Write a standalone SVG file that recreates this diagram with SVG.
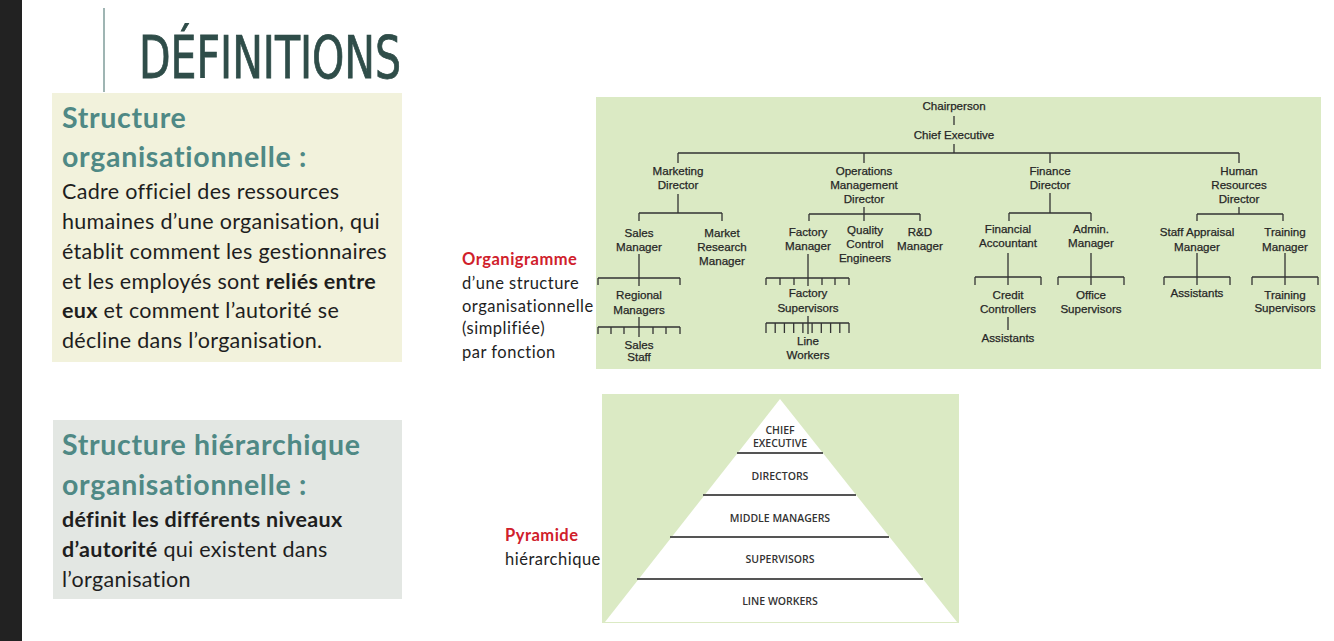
<svg xmlns="http://www.w3.org/2000/svg" width="1334" height="641" viewBox="0 0 1334 641">
<style>
text{font-variant-ligatures:none}
.body{font-family:Lato,"Liberation Sans",sans-serif;font-size:21.5px;letter-spacing:0.3px;fill:#1e1e1e}
.head{font-family:Lato,"Liberation Sans",sans-serif;font-size:28.5px;letter-spacing:0.7px;font-weight:700;fill:#4f8985}
.b{font-weight:700}
.org{font-family:"Liberation Sans",sans-serif;font-size:11.6px;fill:#262626;stroke:#262626;stroke-width:0.25;text-anchor:middle}
.pyr{font-family:"Open Sans","Liberation Sans",sans-serif;font-size:10.5px;font-weight:600;fill:#333;text-anchor:middle}
.lab{font-family:Lato,"Liberation Sans",sans-serif;font-size:16.5px;letter-spacing:0.5px;fill:#1e1e1e}
.red{fill:#d0202b;font-weight:700}
.conn{stroke:#333;stroke-width:1.3;fill:none}
.panel{fill:#dbeac4}
</style>
<rect width="1334" height="641" fill="#ffffff"/>
<rect x="0" y="0" width="22" height="641" fill="#222222"/>
<line x1="104" y1="8" x2="104" y2="92" stroke="#9fb5b3" stroke-width="2"/>
<text x="139" y="78" font-family="'DejaVu Sans Condensed','Liberation Sans Narrow',sans-serif" font-size="58" fill="#2f4d49" stroke="#2f4d49" stroke-width="0.8" textLength="262" lengthAdjust="spacingAndGlyphs">DÉFINITIONS</text>

<g id="box1">
<rect x="52" y="93" width="350" height="269" fill="#f2f2dc"/>
<text class="head" x="62" y="128">Structure</text>
<text class="head" x="62" y="167">organisationnelle :</text>
<text class="body" x="62" y="199">Cadre officiel des ressources</text>
<text class="body" x="62" y="229">humaines d’une organisation, qui</text>
<text class="body" x="62" y="259">établit comment les gestionnaires</text>
<text class="body" x="62" y="289">et les employés sont <tspan class="b">reliés entre</tspan></text>
<text class="body" x="62" y="318"><tspan class="b">eux</tspan> et comment l’autorité se</text>
<text class="body" x="62" y="348">décline dans l’organisation.</text>
</g>

<g id="box2">
<rect x="53" y="420" width="349" height="179" fill="#e3e7e3"/>
<text class="head" x="62" y="455">Structure hiérarchique</text>
<text class="head" x="62" y="495">organisationnelle :</text>
<text class="body b" x="62" y="527">définit les différents niveaux</text>
<text class="body" x="62" y="557"><tspan class="b">d’autorité</tspan> qui existent dans</text>
<text class="body" x="62" y="587">l’organisation</text>
</g>

<g id="label-organigramme">
<text class="lab red" x="462" y="265">Organigramme</text>
<text class="lab" x="462" y="289">d’une structure</text>
<text class="lab" x="462" y="312">organisationnelle</text>
<text class="lab" x="462" y="334">(simplifiée)</text>
<text class="lab" x="462" y="358">par fonction</text>
</g>

<g id="label-pyramide">
<text class="lab red" x="505" y="541">Pyramide</text>
<text class="lab" x="505" y="565">hiérarchique</text>
</g>

<rect class="panel" x="596" y="97" width="725" height="272"/>

<g id="connectors" class="conn">
<path d="M954 116V125M954 144V153M678 153H1239M678 153V163M864 153V163M1050 153V163M1239 153V163"/>
<path d="M678 194V213M639 213H722M639 213V221M722 213V221"/>
<path d="M864 207V221M809 214H920M809 214V221M920 214V221"/>
<path d="M1050 193V213M1009 213H1091M1009 213V221M1091 213V221"/>
<path d="M1239 207V214M1197 214H1283M1197 214V221M1283 214V221"/>
<path d="M639 254V286M598 278H680M598 278V285M680 278V285"/>
<path d="M639 317V337M598 327H680M598 327V334M611 327V334M624 327V334M653 327V334M666 327V334M680 327V334"/>
<path d="M808 254V286M766 278H849M766 278V285M780 278V285M794 278V285M822 278V285M835 278V285M849 278V285"/>
<path d="M808 316V334M766 323H849M766 323V333M775.2 323V333M784.4 323V333M793.7 323V333M802.9 323V333M812.1 323V333M821.3 323V333M830.6 323V333M839.8 323V333M849 323V333"/>
<path d="M1008 253V285M975 277H1041M975 277V285M1041 277V285M1008 317V330"/>
<path d="M1091 253V285M1058 277H1124M1058 277V285M1124 277V285"/>
<path d="M1197 253V285M1164 277H1230M1164 277V285M1230 277V285"/>
<path d="M1285 253V285M1252 277H1318M1252 277V285M1318 277V285"/>
</g>

<g id="n-chair"><text class="org" x="954" y="110">Chairperson</text></g>
<g id="n-ceo"><text class="org" x="954" y="139">Chief Executive</text></g>
<g id="n-mkt"><text class="org" x="678" y="175">Marketing</text><text class="org" x="678" y="189">Director</text></g>
<g id="n-ops"><text class="org" x="864" y="175">Operations</text><text class="org" x="864" y="189">Management</text><text class="org" x="864" y="203">Director</text></g>
<g id="n-fin"><text class="org" x="1050" y="175">Finance</text><text class="org" x="1050" y="189">Director</text></g>
<g id="n-hr"><text class="org" x="1239" y="175">Human</text><text class="org" x="1239" y="189">Resources</text><text class="org" x="1239" y="203">Director</text></g>
<g id="n-sales"><text class="org" x="639" y="237">Sales</text><text class="org" x="639" y="251">Manager</text></g>
<g id="n-mr"><text class="org" x="722" y="237">Market</text><text class="org" x="722" y="251">Research</text><text class="org" x="722" y="265">Manager</text></g>
<g id="n-fm"><text class="org" x="808" y="236">Factory</text><text class="org" x="808" y="250">Manager</text></g>
<g id="n-qc"><text class="org" x="865" y="234">Quality</text><text class="org" x="865" y="248">Control</text><text class="org" x="865" y="262">Engineers</text></g>
<g id="n-rd"><text class="org" x="920" y="236">R&amp;D</text><text class="org" x="920" y="250">Manager</text></g>
<g id="n-fa"><text class="org" x="1008" y="233">Financial</text><text class="org" x="1008" y="247">Accountant</text></g>
<g id="n-am"><text class="org" x="1091" y="233">Admin.</text><text class="org" x="1091" y="247">Manager</text></g>
<g id="n-sam"><text class="org" x="1197" y="236">Staff Appraisal</text><text class="org" x="1197" y="251">Manager</text></g>
<g id="n-tm"><text class="org" x="1285" y="236">Training</text><text class="org" x="1285" y="251">Manager</text></g>
<g id="n-rm"><text class="org" x="639" y="299">Regional</text><text class="org" x="639" y="314">Managers</text></g>
<g id="n-ss"><text class="org" x="639" y="349">Sales</text><text class="org" x="639" y="361">Staff</text></g>
<g id="n-fs"><text class="org" x="808" y="297">Factory</text><text class="org" x="808" y="312">Supervisors</text></g>
<g id="n-lw"><text class="org" x="808" y="345">Line</text><text class="org" x="808" y="359">Workers</text></g>
<g id="n-cc"><text class="org" x="1008" y="299">Credit</text><text class="org" x="1008" y="313">Controllers</text></g>
<g id="n-as1"><text class="org" x="1008" y="342">Assistants</text></g>
<g id="n-os"><text class="org" x="1091" y="299">Office</text><text class="org" x="1091" y="313">Supervisors</text></g>
<g id="n-as2"><text class="org" x="1197" y="297">Assistants</text></g>
<g id="n-ts"><text class="org" x="1285" y="299">Training</text><text class="org" x="1285" y="312">Supervisors</text></g>

<g id="pyramid">
<rect class="panel" x="602" y="394" width="357" height="229"/>
<polygon points="780,399 605,622 957,622" fill="#ffffff"/>
<g stroke="#555" stroke-width="2">
<line x1="737" y1="453" x2="823" y2="453"/>
<line x1="703" y1="495" x2="856" y2="495"/>
<line x1="670" y1="537" x2="889" y2="537"/>
<line x1="637" y1="579" x2="923" y2="579"/>
</g>
<text class="pyr" x="780" y="434">CHIEF</text>
<text class="pyr" x="780" y="447">EXECUTIVE</text>
<text class="pyr" x="780" y="480">DIRECTORS</text>
<text class="pyr" x="780" y="522">MIDDLE MANAGERS</text>
<text class="pyr" x="780" y="563">SUPERVISORS</text>
<text class="pyr" x="780" y="605">LINE WORKERS</text>
</g>
</svg>
